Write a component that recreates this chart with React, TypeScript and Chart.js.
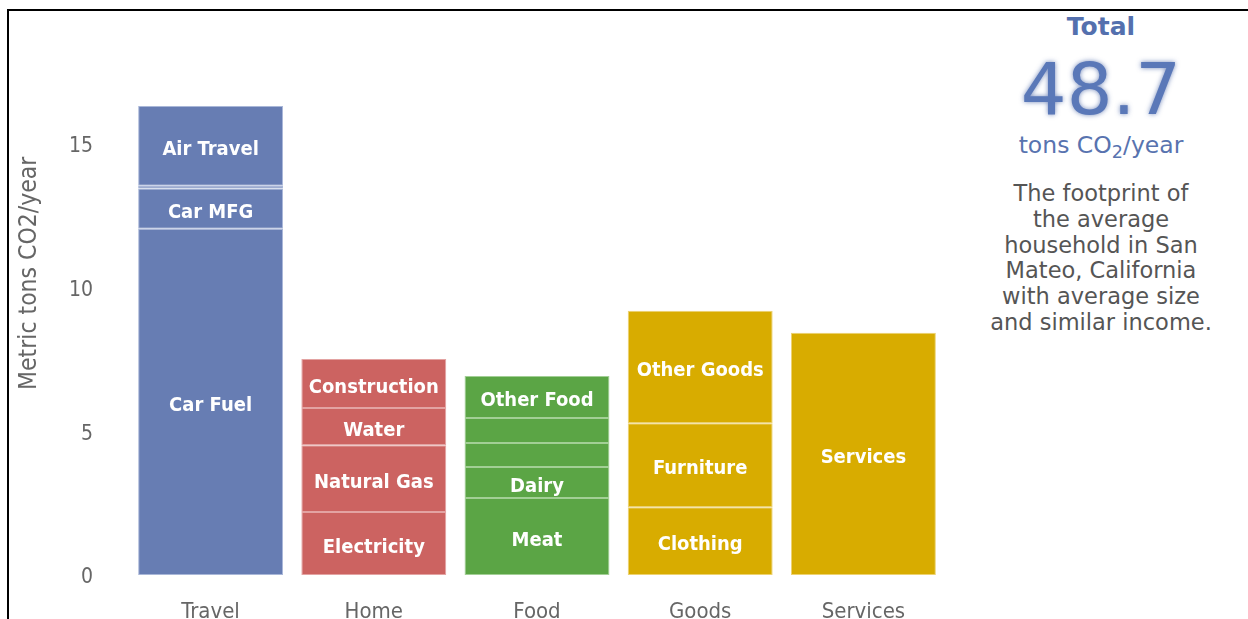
import React, { useEffect, useRef } from 'react';
import { Chart, registerables } from 'chart.js';

Chart.register(...registerables);

const categories = ['Travel', 'Home', 'Food', 'Goods', 'Services'];

const travelValues = [12.05, 1.4, 0.1, 2.77];
const travelLabels = ['Car Fuel', 'Car MFG', '', 'Air Travel'];
const homeValues = [2.19, 2.33, 1.29, 1.71];
const homeLabels = ['Electricity', 'Natural Gas', 'Water', 'Construction'];
const foodValues = [2.68, 1.08, 0.83, 0.87, 1.47];
const foodLabels = ['Meat', 'Dairy', '', '', 'Other Food'];
const goodsValues = [2.36, 2.92, 3.92];
const goodsLabels = ['Clothing', 'Furniture', 'Other Goods'];
const servicesValues = [8.43];
const servicesLabels = ['Services'];

const yTicks = [0, 5, 10, 15];
const yMax = 21;

const barColors = ['#677DB3', '#CC6361', '#5BA545', '#D8AC00', '#D8AC00'];
const edgeColors = ['#A9B7D8', '#E3A3A2', '#A2CF95', '#EDD270', '#EDD270'];

const AXIS_FONT = '"DejaVu Sans Condensed", "DejaVu Sans", sans-serif';
const LABEL_FONT = 'bold 20px "DejaVu Sans Condensed", "DejaVu Sans", sans-serif';

const segmentLabelPlugin = {
  id: 'segmentLabels',
  afterDatasetsDraw(chart: any) {
    const ctx = chart.ctx;
    ctx.save();
    ctx.font = LABEL_FONT;
    ctx.fillStyle = '#ffffff';
    ctx.textAlign = 'center';
    ctx.textBaseline = 'middle';
    chart.data.datasets.forEach((ds: any, di: number) => {
      const meta = chart.getDatasetMeta(di);
      meta.data.forEach((el: any, idx: number) => {
        const label = ds.segLabels[idx];
        if (!label || ds.data[idx] == null) return;
        const { x, y, base } = el.getProps(['x', 'y', 'base'], true);
        ctx.fillText(label, x, (y + base) / 2 + 4);
      });
    });
    ctx.restore();
  },
};

export default function App() {
  const canvasRef = useRef<HTMLCanvasElement>(null);

  useEffect(() => {
    const canvas = canvasRef.current;
    if (!canvas) return;
    const segmentValues = [travelValues, homeValues, foodValues, goodsValues, servicesValues];
    const segmentLabels = [travelLabels, homeLabels, foodLabels, goodsLabels, servicesLabels];
    const layers = Math.max(...segmentValues.map((a) => a.length));
    const datasets = Array.from({ length: layers }, (_, i) => ({
      label: 'layer ' + i,
      data: segmentValues.map((a) => (a[i] === undefined ? null : a[i])),
      segLabels: segmentLabels.map((a) => a[i] || ''),
      backgroundColor: barColors,
      borderColor: edgeColors,
      borderWidth: 1,
      borderSkipped: false,
      barPercentage: 0.888,
      categoryPercentage: 1,
      stack: 'total',
    }));

    const chart = new Chart(canvas, {
      type: 'bar',
      data: { labels: categories, datasets: datasets as any },
      options: {
        animation: false,
        responsive: false,
        maintainAspectRatio: false,
        layout: { padding: { top: 0, right: 15, left: 0, bottom: 0 } },
        plugins: { legend: { display: false }, tooltip: { enabled: false } },
        scales: {
          x: {
            stacked: true,
            grid: { display: false, drawTicks: false },
            border: { display: false },
            ticks: { color: '#666666', font: { family: AXIS_FONT, size: 22 }, padding: 24 },
            afterFit: (s: any) => {
              s.height = 75;
            },
          },
          y: {
            stacked: true,
            min: 0,
            max: yMax,
            grid: { display: false, drawTicks: false },
            border: { display: false },
            afterBuildTicks: (s: any) => {
              s.ticks = yTicks.map((v) => ({ value: v }));
            },
            ticks: { color: '#666666', font: { family: AXIS_FONT, size: 21 }, padding: 36, labelOffset: 3 },
            title: {
              display: true,
              text: 'Metric tons CO2/year',
              color: '#666666',
              font: { family: AXIS_FONT, size: 24.5, weight: 'normal' },
              padding: { top: 15, bottom: 0 },
            },
            afterFit: (s: any) => {
              s.width = 129;
            },
          },
        },
      },
      plugins: [segmentLabelPlugin],
    });
    return () => chart.destroy();
  }, []);

  const panelFont = '"DejaVu Sans", Verdana, sans-serif';

  return (
    <div style={{ position: 'fixed', left: 0, top: 0, width: 1248, height: 619, overflow: 'hidden', background: '#ffffff' }}>
      <div style={{ position: 'absolute', left: 7, top: 9, width: 1400, height: 800, borderLeft: '2px solid #000', borderTop: '2px solid #000' }} />
      <div style={{ position: 'absolute', left: 0, top: -77, width: 960, height: 727 }}>
        <canvas ref={canvasRef} width={960} height={727} style={{ display: 'block', width: 960, height: 727 }} />
      </div>
      <div style={{ position: 'absolute', left: 980, top: 0, width: 242, fontFamily: panelFont, textAlign: 'center' }}>
        <div style={{ position: 'absolute', left: 0, width: 242, top: 12, lineHeight: '30px', fontSize: 25, fontWeight: 'bold', color: '#5470AE' }}>Total</div>
        <div style={{ position: 'absolute', left: 0, width: 242, top: 49, lineHeight: '80px', fontSize: 72, color: '#5A78B8', textShadow: '0 0 5px rgba(60,90,160,0.7)' }}>48.7</div>
        <div style={{ position: 'absolute', left: -10, width: 262, top: 130, lineHeight: '30px', fontSize: 23.5, color: '#5873AF' }}>
          tons CO<sub style={{ fontSize: '75%', verticalAlign: '-0.3em', lineHeight: 0 }}>2</sub>/year
        </div>
        <div style={{ position: 'absolute', left: -10, width: 262, top: 181, lineHeight: '25.8px', fontSize: 22.5, color: '#555555' }}>
          The footprint of<br />the average<br />household in San<br />Mateo, California<br />with average size<br />and similar income.
        </div>
      </div>
    </div>
  );
}
